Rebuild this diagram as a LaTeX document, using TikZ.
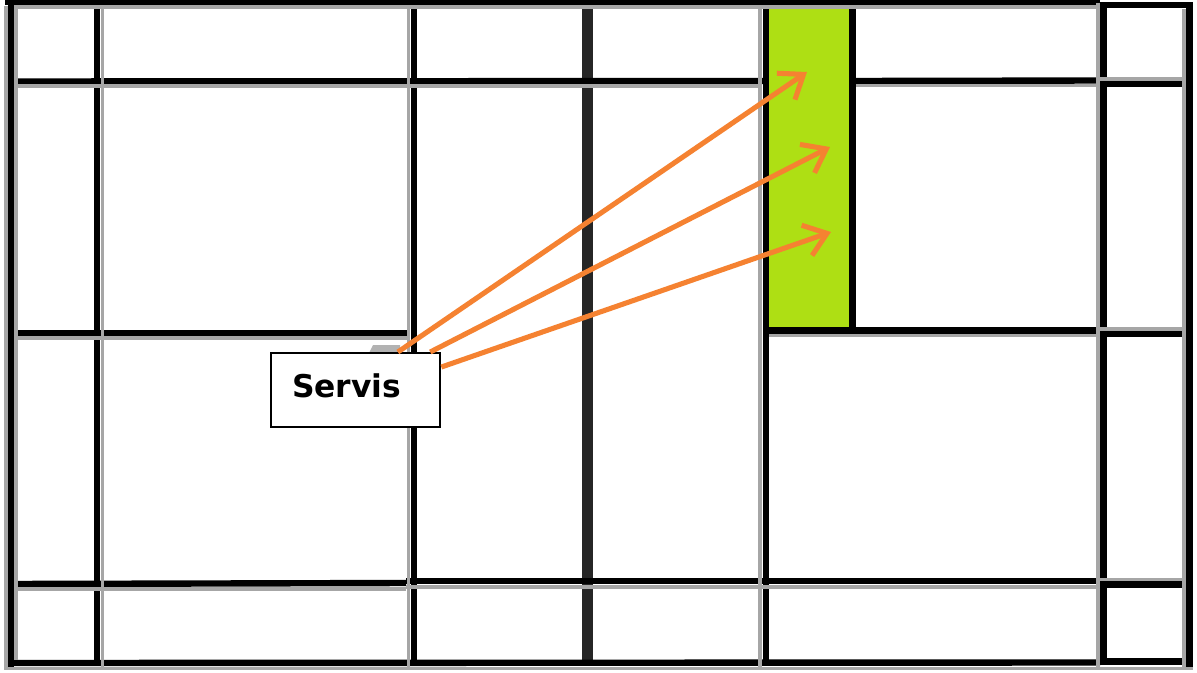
\documentclass[tikz,border=0pt]{standalone}
\usepackage{fontspec}
\setmainfont{DejaVu Sans}
\usetikzlibrary{arrows.meta}
\definecolor{kort}{HTML}{AEDF14}
\definecolor{ok}{HTML}{F58231}

\begin{document}
\begin{tikzpicture}[x=0.75pt,y=-0.75pt,
	hat/.style={line width=4.8pt, black},
	golge/.style={line width=2.8pt, black!35},
	pile/.style={line width=3.8pt, ok, ->, >={Straight Barb[length=16pt, width=24pt, line width=3.8pt]}},
	kutu/.style={draw, line width=1.5pt, fill=white, minimum width=127pt, minimum height=55.5pt, inner ysep=0pt, inner xsep=15.75pt, text width=95.5pt, align=left, text depth=6pt}]

	\useasboundingbox (0,0) rectangle (1197,672);
	\fill[white] (0,0) rectangle (1197,672);

	% Green zone
	\fill[kort] (768,8) rectangle (851,329);

	% Black lines
	\draw[hat] (11,1) -- (11,669);
	\draw[hat] (97,4) -- (97,665);
	\draw[hat] (414,4) -- (414,665);
	\draw[line width=8pt, black!85] (587.5,6) -- (587.5,665);
	\draw[hat] (766,4) -- (766,665);
	\draw[hat] (852.5,4) -- (852.5,333);
	\draw[hat] (1103.5,3) -- (1103.5,665);
	\draw[hat] (1189.5,2) -- (1189.5,667);

	\draw[hat] (5,2) -- (1100,2);
	\draw[hat] (1100,5) -- (1193,5);
	\draw[hat] (9,81.5) -- (763,81);
	\draw[hat] (856,81) -- (1096,80.5);
	\draw[hat] (1107,83.5) -- (1186,83.5);
	\draw[hat] (9,333) -- (407,333);
	\draw[hat] (769,330.5) -- (1096,330.5);
	\draw[hat] (1107,334) -- (1186,334);
	\draw[hat] (9,584) -- (406,583);
	\draw[hat] (406,581) -- (1096,581);
	\draw[hat] (1107,584.5) -- (1186,584.5);
	\draw[hat] (9,663) -- (1100,662.5);
	\draw[hat] (1100,661.5) -- (1186,661.5);

	% Grey edges
	\draw[golge] (6,6) -- (6,670);
	\draw[golge] (16,9) -- (16,660);
	\draw[golge] (102.5,9) -- (102.5,668);
	\draw[golge] (408.5,9) -- (408.5,668);
	\draw[golge] (760,9) -- (760,668);
	\draw[golge] (1098,3) -- (1098,668);
	\draw[golge] (1184,9) -- (1184,668);

	\draw[golge] (14,7) -- (1096,7);
	\draw[golge] (14,86) -- (762,86);
	\draw[golge] (856,85.5) -- (1096,85.5);
	\draw[golge] (1100,79) -- (1186,79);
	\draw[golge] (14,338) -- (407,338);
	\draw[golge] (769,335.5) -- (1096,335.5);
	\draw[golge] (1100,329) -- (1186,329);
	\draw[golge] (14,589) -- (406,589);
	\draw[golge] (406,587) -- (1096,587);
	\draw[golge] (1100,579.5) -- (1186,579.5);
	\draw[golge] (5,668.5) -- (1193,668.5);

	% Service box
	\fill[black!30] (369,353) -- (373,345) -- (400,345) -- (400,353) -- cycle;
	\coordinate (ust) at (807,72);
	\coordinate (orta) at (830,147);
	\coordinate (alt) at (831,232);
	\node[kutu, anchor=north west, font=\bfseries\fontsize{23.5pt}{28pt}\selectfont] (servis) at (270,352) {Servis};
	\draw[pile] (servis.42) -- (ust);
	\draw[pile] (servis.27) -- (orta);
	\draw[pile] (servis.15) -- (alt);

\end{tikzpicture}
\end{document}
